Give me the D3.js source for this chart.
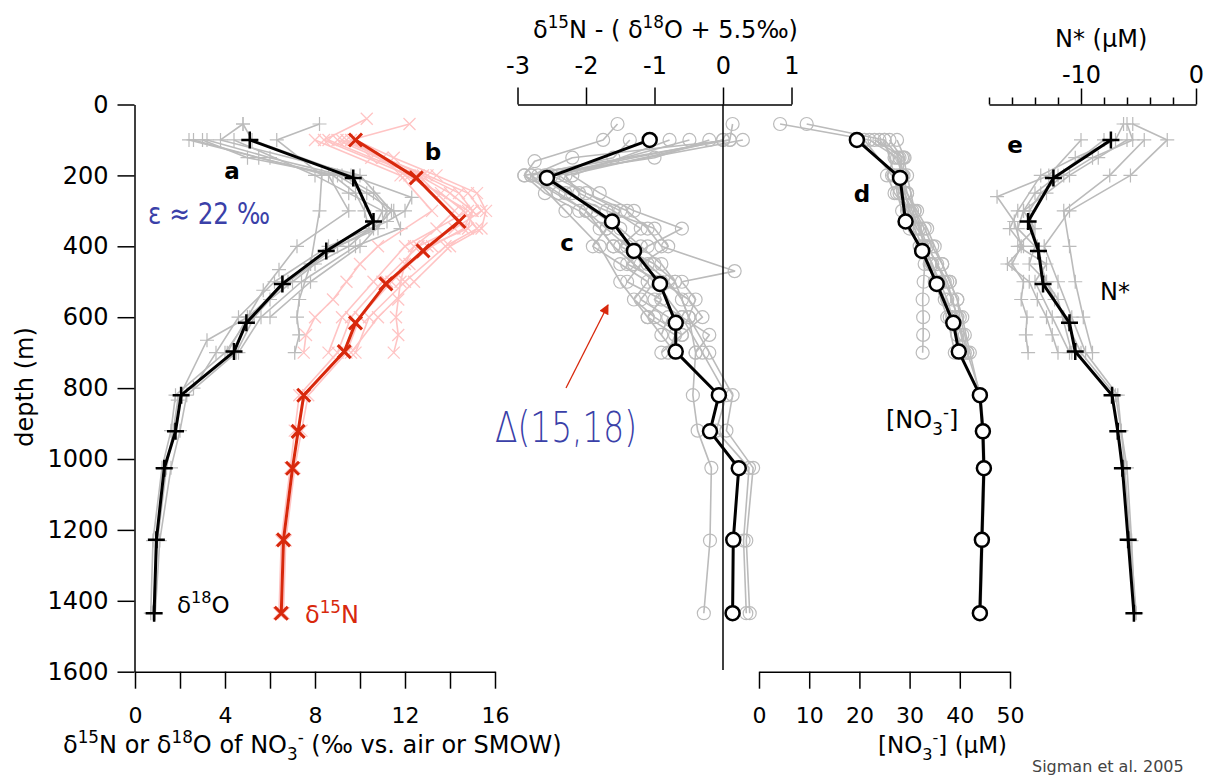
<!DOCTYPE html>
<html><head><meta charset="utf-8">
<script src="https://cdn.jsdelivr.net/npm/d3@7"></script>
<style>body{margin:0;background:#fff} svg{display:block} text{font-family:"DejaVu Sans",sans-serif}</style>
</head><body>
<svg id="c" width="1213" height="780"></svg>
<script>
// ---------- data ----------
const stdDepths = [100,207,330,413,506,616,697,820,922,1026,1228,1435];
const meanD18O  = [5.1,9.7,10.6,8.5,6.55,4.95,4.4,2.05,1.8,1.3,0.95,0.85];
const meanD15N  = [9.8,12.5,14.4,12.8,11.15,9.8,9.3,7.5,7.25,7.0,6.6,6.5];
const meanDelta = [-1.07,-2.57,-1.62,-1.30,-0.92,-0.69,-0.69,-0.06,-0.19,0.23,0.15,0.14];
const meanNO3   = [19.5,28.1,29.2,32.5,35.4,38.7,39.8,44.0,44.6,44.8,44.4,44.0];
const meanNstar = [-7.4,-12.4,-14.6,-13.7,-13.3,-11.0,-10.5,-7.3,-6.8,-6.4,-5.9,-5.4];

const stationsD18O = [
  {depth:[100,150,200,250,300,350,400,450,500,550,600,700,820,920,1025,1230,1435], value:[2.6,5.5,8.8,9.8,10.2,10.4,9.5,8.0,7.0,6.0,5.3,4.5,2.3,2.0,1.6,1.1,0.9]},
  {depth:[100,150,200,250,300,350,400,450,500,600,700,820,920,1025,1230,1435], value:[3.2,6.0,9.2,10.6,11.2,10.8,9.0,7.8,6.6,5.1,4.0,1.8,1.6,1.2,0.8,0.7]},
  {depth:[55,100,200,262,300,330,400,500,600,700,800], value:[4.8,5.2,9.6,12.3,12.0,11.2,8.6,6.2,4.6,3.6,2.6]},
  {depth:[55,100,200,300,450,550,600,650,700], value:[8.2,6.3,8.3,8.2,7.8,7.3,7.2,7.3,7.1]},
  {depth:[100,200,300,400,466,524,600,665,834,920,1025,1230,1435], value:[2.4,8.6,9.5,7.2,6.4,5.7,5.0,3.2,1.9,1.7,1.4,1.0,0.8]},
  {depth:[100,150,200,250,300,350,400,500,600,700], value:[3.0,5.0,9.0,10.3,11.5,11.8,9.8,7.4,5.6,4.6]},
  {depth:[100,200,250,300,350,400,500,600,700], value:[4.4,8.0,9.5,11.0,10.6,9.0,6.8,5.0,4.1]},
  {depth:[55,100,200,300,400,500,600], value:[4.8,3.8,10.0,11.4,10.0,7.8,6.0]}
];
const stationsD15N = [
  {depth:[100,150,200,250,300,350,400,450,500,600,700,820,920,1025,1230,1435], value:[8.6,10.5,12.6,14.0,15.0,14.6,13.2,12.2,11.4,10.0,9.4,7.7,7.4,7.1,6.7,6.6]},
  {depth:[100,150,200,250,300,350,400,500,600,700,820,920,1025,1230,1435], value:[9.2,11.0,13.0,14.8,15.4,14.2,12.6,11.0,9.6,9.0,7.3,7.1,6.9,6.5,6.4]},
  {depth:[55,100,200,250,300,350,400,500,600,700], value:[12.2,9.6,12.0,13.6,14.6,15.2,13.8,12.0,10.4,9.8]},
  {depth:[100,200,300,350,400,450,500,550,600,650,700], value:[9.0,12.6,14.2,13.4,12.4,12.0,11.8,11.7,11.6,11.7,11.5]},
  {depth:[100,200,300,400,450,500,550,600,650,700], value:[8.0,11.8,13.2,10.8,10.0,9.4,8.8,8.0,7.6,7.5]},
  {depth:[100,150,200,250,300,350,400,500,600,700], value:[9.8,11.5,13.4,15.2,15.6,15.4,14.0,12.4,10.8,9.6]},
  {depth:[40,100,200,300,400,500,600,700], value:[10.3,8.4,12.2,14.8,12.0,10.6,9.2,8.6]},
  {depth:[100,200,250,300,350,400,500,600], value:[9.4,12.8,14.4,15.0,14.8,13.0,11.2,10.0]}
];
const stationsDelta = [
  {depth:[100,150,200,250,300,350,400,450,500,550,600,700,820,920,1025,1230,1435], value:[0.1,-2.2,-2.8,-2.4,-2.0,-1.7,-1.4,-1.1,-0.8,-0.6,-0.5,-0.4,-0.44,-0.37,-0.17,-0.19,-0.28]},
  {depth:[100,200,250,300,350,400,450,500,600,700,820,920,1025,1230,1435], value:[0.0,-2.6,-2.2,-1.9,-1.5,-1.2,-0.9,-0.7,-0.5,-0.2,0.14,0.05,0.44,0.34,0.39]},
  {depth:[55,100,200,300,400,500,600,700,820,920,1025,1230,1435], value:[0.14,0.1,-2.9,-2.0,-1.6,-1.0,-0.6,-0.3,0.05,-0.1,0.38,0.3,0.34]},
  {depth:[55,100,160,200,250,300,350,400,450,500,550,600,650], value:[-1.54,-1.75,-2.75,-2.9,-2.6,-2.1,-1.8,-1.6,-1.3,-1.0,-1.2,-0.8,-0.9]},
  {depth:[100,200,250,300,350,400,470,500,550,600], value:[-0.49,-2.4,-2.0,-1.4,-1.1,-0.9,0.17,-0.6,-0.4,-0.5]},
  {depth:[100,150,200,250,300,350,400,450,500,550,600,650,700], value:[-0.2,-1.0,-2.7,-2.3,-1.7,-1.0,-0.8,-1.2,-1.4,-0.9,-1.1,-0.7,-0.8]},
  {depth:[100,200,300,350,400,450,500,550,600,650,700], value:[0.29,-2.5,-1.5,-1.7,-1.9,-1.5,-1.1,-1.3,-1.0,-0.6,-0.9]},
  {depth:[100,200,250,300,350,400,450,500,550,600,650], value:[-0.78,-2.2,-1.8,-1.3,-0.6,-1.1,-1.4,-0.9,-0.5,-0.3,-0.6]},
  {depth:[100,150,200,300,400,500,600,700], value:[-1.36,-1.6,-2.8,-2.3,-1.8,-1.5,-1.1,-0.7]},
  {depth:[100,200,250,300,350,400,450,500,550,600,650,700], value:[0.0,-2.3,-2.1,-1.6,-1.2,-1.5,-1.0,-0.7,-1.0,-0.6,-0.2,-0.4]}
];
const stationsNO3 = [
  {depth:[55,100,150,200,250,300,350,400,450,500,550,600,650,700,820,920,1025,1230,1435], value:[4.2,22.0,27.5,28.5,29.0,30.0,31.5,33.5,35.5,37.0,38.5,39.5,40.5,41.5,44.2,44.8,45.0,44.6,44.2]},
  {depth:[55,100,150,200,250,300,350,400,450,500,550,600,700,820,920,1025,1230,1435], value:[9.5,25.0,28.0,28.8,29.5,31.0,33.0,34.5,36.5,38.0,39.5,40.5,42.0,44.0,44.4,44.6,44.2,43.8]},
  {depth:[100,150,200,250,300,350,400,450,500,550,600,650,700], value:[24.0,27.0,25.5,27.0,29.5,31.0,32.5,33.0,32.8,32.6,32.7,32.7,32.6]},
  {depth:[100,150,200,250,300,350,400,450,500,550,600,650,700], value:[26.0,28.5,27.8,29.5,31.5,33.5,35.0,36.5,38.0,39.5,40.0,41.0,41.5]},
  {depth:[100,150,200,250,300,350,400,450,500,550,600,700], value:[27.5,29.0,28.5,29.0,30.5,32.0,33.0,34.5,36.0,37.5,38.5,40.5]},
  {depth:[100,200,250,300,350,400,450,500,550,600,650,700], value:[21.0,26.5,28.0,30.0,32.0,33.0,34.5,35.5,37.0,38.0,39.5,40.5]},
  {depth:[100,150,200,300,400,500,600,700], value:[23.0,28.8,29.5,31.0,33.5,37.5,39.5,41.0]},
  {depth:[100,200,250,300,350,400,450,500,600,700], value:[25.0,27.0,27.5,28.5,30.0,32.0,34.0,35.0,37.5,39.0]}
];
const stationsNstar = [
  {depth:[55,100,150,200,250,300,350,400,450,500,550,600,700,820,920,1025,1230,1435], value:[-6.0,-5.5,-9.0,-11.5,-13.5,-14.5,-14.2,-13.8,-13.5,-13.0,-12.3,-11.5,-10.0,-7.0,-6.5,-6.2,-5.7,-5.2]},
  {depth:[55,100,200,300,400,500,600,700,820,920,1025,1230,1435], value:[-5.5,-2.5,-5.7,-11.0,-13.2,-12.0,-10.8,-9.6,-6.8,-6.5,-6.0,-5.6,-5.3]},
  {depth:[100,200,260,330,400,450,500,550,600,650,700], value:[-10.0,-12.8,-17.3,-15.8,-15.2,-16.0,-15.0,-15.2,-14.7,-14.8,-14.6]},
  {depth:[100,150,200,250,300,350,400,450,500,550,600,700], value:[-6.0,-8.5,-11.0,-13.0,-15.0,-15.5,-14.0,-14.5,-13.0,-12.0,-11.6,-10.8]},
  {depth:[100,200,300,400,500,600,700], value:[-4.5,-7.5,-11.5,-11.0,-10.5,-9.8,-9.0]},
  {depth:[55,100,150,200,300,350,400,450,500,550,600,650,700], value:[-6.3,-7.0,-10.5,-13.5,-15.5,-16.2,-15.0,-16.4,-14.5,-13.8,-13.0,-12.5,-12.0]},
  {depth:[100,200,250,300,350,400,450,500,600,700], value:[-8.0,-12.0,-14.0,-15.0,-14.0,-15.5,-13.0,-14.0,-12.5,-11.0]}
];

const depthTicks = [0,200,400,600,800,1000,1200,1400,1600];
const isoTicks = [0,2,4,6,8,10,12,14,16];
const isoLabels = [0,4,8,12,16];
const deltaTicks = [-3,-2,-1,0,1];
const no3Ticks = [0,10,20,30,40,50];
const nstarTicks = [-18,-16,-14,-12,-10,-8,-6,-4,-2,0];
const nstarLabels = [-10,0];

// ---------- styles ----------
const GRAY = '#bbbbbb', PINK = '#ffc4c4', RED = '#d8280c', BLUE = '#3a40a8';

const svg = d3.select('#c');
const y = d3.scaleLinear().domain([0,1600]).range([104.5,671.7]);
const xIso = d3.scaleLinear().domain([0,16]).range([135,495]);
const xDel = d3.scaleLinear().domain([-3,1]).range([517.5,791.5]);
const xNO3 = d3.scaleLinear().domain([0,50]).range([759,1010]);
const xNs = d3.scaleLinear().domain([-18,0]).range([989,1196]);

function drawProfile(g, xs, depth, value, o){
  const pts = depth.map((d,i)=>({d, v:value[i]}));
  const line = d3.line().x(p=>xs(p.v)).y(p=>y(p.d));
  g.append('path').attr('d', line(pts)).attr('fill','none')
    .attr('stroke', o.color).attr('stroke-width', o.lw).attr('stroke-linejoin','round');
  const sel = g.append('g').selectAll(null).data(pts).enter();
  if (o.marker === 'circle') {
    sel.append('circle').attr('cx',p=>xs(p.v)).attr('cy',p=>y(p.d)).attr('r',o.size)
      .attr('fill', o.fill || 'none').attr('stroke', o.color).attr('stroke-width', o.mw);
  } else {
    const h = o.size;
    const dp = o.marker === 'plus' ? `M${-h},0H${h}M0,${-h}V${h}` : `M${-h},${-h}L${h},${h}M${-h},${h}L${h},${-h}`;
    sel.append('path').attr('transform',p=>`translate(${xs(p.v)},${y(p.d)})`).attr('d',dp)
      .attr('fill','none').attr('stroke', o.color).attr('stroke-width', o.mw);
  }
}

function rich(g, x, y0, parts, fs, attrs){
  const t = g.append('text').attr('x',x).attr('y',y0).attr('font-size',fs);
  Object.entries(attrs||{}).forEach(([k,v])=>t.attr(k,v));
  let cur = 0;
  parts.forEach(p=>{
    const [txt, kind] = Array.isArray(p) ? p : [p, null];
    const target = kind==='sup' ? -fs*0.42 : kind==='sub' ? fs*0.3 : 0;
    const s = t.append('tspan').text(txt).attr('dy', target-cur);
    if (kind) s.attr('font-size', fs*0.7);
    cur = target;
  });
  return t;
}

function styleAxis(g, fs){
  g.attr('font-family','"DejaVu Sans",sans-serif').attr('font-size',fs);
  g.selectAll('path.domain').attr('stroke','#000').attr('stroke-width',1.5);
  g.selectAll('.tick line').attr('stroke','#000').attr('stroke-width',1.5);
  g.selectAll('.tick text').attr('fill','#000');
}

// ---------- background station profiles ----------
const gBg = svg.append('g');
stationsD18O.forEach(s=>drawProfile(gBg, xIso, s.depth, s.value, {color:GRAY, lw:1.6, marker:'plus', size:7, mw:1.2}));
stationsD15N.forEach(s=>drawProfile(gBg, xIso, s.depth, s.value, {color:PINK, lw:1.6, marker:'cross', size:6, mw:1.3}));
stationsDelta.forEach(s=>drawProfile(gBg, xDel, s.depth, s.value, {color:GRAY, lw:1.6, marker:'circle', size:6.5, mw:1.2}));
stationsNO3.forEach(s=>drawProfile(gBg, xNO3, s.depth, s.value, {color:GRAY, lw:1.6, marker:'circle', size:6.5, mw:1.2}));
stationsNstar.forEach(s=>drawProfile(gBg, xNs, s.depth, s.value, {color:GRAY, lw:1.6, marker:'plus', size:7, mw:1.2}));

// ---------- axes ----------
const gy = svg.append('g').attr('transform',`translate(${xIso(0)-0.5},0)`)
  .call(d3.axisLeft(y).tickValues(depthTicks).tickSize(17).tickSizeOuter(0).tickPadding(9).tickFormat(d=>String(d)));
styleAxis(gy, 24);

const gxIso = svg.append('g').attr('transform',`translate(0,${y(1600)})`)
  .call(d3.axisBottom(xIso).tickValues(isoTicks).tickSize(17).tickSizeOuter(0).tickPadding(19)
    .tickFormat(d=> isoLabels.includes(d) ? String(d) : ''));
styleAxis(gxIso, 22);

const gxDel = svg.append('g').attr('transform',`translate(0,${y(0)})`)
  .call(d3.axisTop(xDel).tickValues(deltaTicks).tickSize(17).tickSizeOuter(0).tickPadding(14).tickFormat(d=>String(d)));
styleAxis(gxDel, 24);
svg.append('line').attr('x1',xDel(0)).attr('x2',xDel(0)).attr('y1',y(0)).attr('y2',y(1595))
  .attr('stroke','#000').attr('stroke-width',1.5);

const gxNO3 = svg.append('g').attr('transform',`translate(0,${y(1600)})`)
  .call(d3.axisBottom(xNO3).tickValues(no3Ticks).tickSize(17).tickSizeOuter(0).tickPadding(19).tickFormat(d=>String(d)));
styleAxis(gxNO3, 22);

const gxNs = svg.append('g').attr('transform',`translate(0,${y(0)})`)
  .call(d3.axisTop(xNs).tickValues(nstarTicks).tickSize(7).tickSizeOuter(0)
    .tickFormat(d=> nstarLabels.includes(d) ? String(d) : ''));
styleAxis(gxNs, 24);
gxNs.selectAll('.tick line').attr('y2', d=> nstarLabels.includes(d) ? -16 : -7);
gxNs.selectAll('.tick text').attr('y', -22);

// ---------- mean profiles ----------
const gMean = svg.append('g');
drawProfile(gMean, xIso, stdDepths, meanD18O, {color:'#000', lw:3, marker:'plus', size:8.5, mw:2.5});
drawProfile(gMean, xIso, stdDepths, meanD15N, {color:RED, lw:3, marker:'cross', size:6.5, mw:3});
drawProfile(gMean, xDel, stdDepths, meanDelta, {color:'#000', lw:3, marker:'circle', size:7, mw:2.5, fill:'#fff'});
drawProfile(gMean, xNO3, stdDepths, meanNO3, {color:'#000', lw:3, marker:'circle', size:7, mw:2.5, fill:'#fff'});
drawProfile(gMean, xNs, stdDepths, meanNstar, {color:'#000', lw:3, marker:'plus', size:8.5, mw:2.5});

// ---------- labels ----------
const gT = svg.append('g');
gT.append('text').attr('transform','translate(33,387) rotate(-90)').attr('text-anchor','middle')
  .attr('font-size',24).text('depth (m)');

rich(gT, 63, 753, ['δ',['15','sup'],'N or δ',['18','sup'],'O of NO',['3','sub'],['-','sup'],' (‰ vs. air or SMOW)'], 24);
rich(gT, 878, 753, ['[NO',['3','sub'],['-','sup'],'] (μM)'], 23);
rich(gT, 533, 38, ['δ',['15','sup'],'N - ( δ',['18','sup'],'O + 5.5‰)'], 24);
rich(gT, 1055, 47, ['N* (μM)'], 24);

gT.append('text').attr('x',1032).attr('y',772).attr('font-size',16)
  .attr('font-family','"Liberation Sans",Arial,sans-serif').attr('fill','#444').text('Sigman et al. 2005');

const letters = [['a',232,179],['b',433,160],['c',567,251],['d',862,202],['e',1015,153]];
letters.forEach(([t,x,yy])=>gT.append('text').attr('x',x).attr('y',yy).attr('text-anchor','middle')
  .attr('font-size',23).attr('font-weight','bold').attr('font-family','"Liberation Sans",Arial,sans-serif').text(t));

gT.append('text').attr('x',1100).attr('y',300).attr('font-size',24).text('N*');
rich(gT, 886, 428, ['[NO',['3','sub'],['-','sup'],']'], 24);

rich(gT, 177, 613, ['δ',['18','sup'],'O'], 23);
rich(gT, 305, 623, ['δ',['15','sup'],'N'], 24, {fill:RED});

gT.append('text').attr('x',148).attr('y',224).attr('font-size',30).attr('fill',BLUE)
  .attr('textLength',122).attr('lengthAdjust','spacingAndGlyphs')
  .attr('font-family','Lato,"Open Sans",sans-serif').text('ε ≈ 22 ‰');
gT.append('text').attr('x',495).attr('y',442).attr('font-size',42).attr('fill',BLUE)
  .attr('textLength',142).attr('lengthAdjust','spacingAndGlyphs')
  .attr('font-family','Lato,"Open Sans",sans-serif').attr('font-weight',300).text('Δ(15,18)');

// red arrow
svg.append('defs').append('marker').attr('id','ah').attr('viewBox','0 0 10 10').attr('refX',9).attr('refY',5)
  .attr('markerWidth',12).attr('markerHeight',10).attr('markerUnits','userSpaceOnUse').attr('orient','auto')
  .append('path').attr('d','M0,0L10,5L0,10Z').attr('fill',RED);
svg.append('line').attr('x1',566).attr('y1',388).attr('x2',608).attr('y2',305)
  .attr('stroke',RED).attr('stroke-width',1.3).attr('marker-end','url(#ah)');
</script>
</body></html>
